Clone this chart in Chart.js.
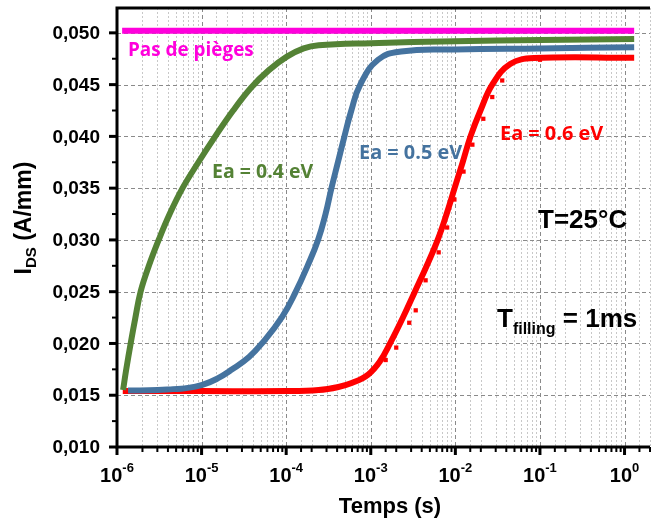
<!DOCTYPE html>
<html lang="fr">
<head>
<meta charset="UTF-8">
<title>IDS en fonction du temps</title>
<style>body{margin:0;background:#fff}</style>
</head>
<body>
<canvas id="myChart" width="654" height="524"></canvas>
<script src="https://cdn.jsdelivr.net/npm/chart.js"></script>
<script>
// values (time in s, current in A/mm)
const noTrapT = [1.15e-6, 1.3];
const noTrapI = [0.0502, 0.0502];

const ea04T = [1.18e-6, 1.28e-6, 1.45e-6, 1.65e-6, 1.9e-6, 2.38e-6, 3.11e-6, 4.19e-6, 5.95e-6, 9.17e-6, 1.45e-5, 2.36e-5, 3.84e-5, 6.25e-5, 1.02e-4, 1.61e-4, 2.42e-4, 1e-3, 1e-2, 1e-1, 1.3];
const ea04I = [0.0155, 0.0174, 0.0200, 0.0225, 0.0250, 0.0275, 0.0300, 0.0325, 0.0350, 0.0375, 0.0400, 0.0425, 0.0447, 0.0464, 0.0477, 0.0485, 0.0488, 0.0490, 0.0492, 0.0493, 0.0494];

const ea05T = [1.35e-6, 3.03e-6, 4.6e-6, 6.28e-6, 1.02e-5, 1.53e-5, 2.3e-5, 3.64e-5, 5.17e-5, 9.0e-5, 1.3e-4, 1.79e-4, 2.38e-4, 2.92e-4, 3.43e-4, 4.09e-4, 4.88e-4, 5.89e-4, 7.51e-4, 1.22e-3, 2.28e-3, 1e-2, 1e-1, 1.3];
const ea05I = [0.01545, 0.0155, 0.01559, 0.01566, 0.0160, 0.0166, 0.0175, 0.0187, 0.0200, 0.0226, 0.0250, 0.0275, 0.0300, 0.0325, 0.0350, 0.0375, 0.0400, 0.0425, 0.0450, 0.0474, 0.0482, 0.0484, 0.0485, 0.0486];

const ea06T = [1.17e-6, 1e-5, 1e-4, 2.42e-4, 4.14e-4, 6.05e-4, 9.31e-4, 1.29e-3, 1.69e-3, 2.4e-3, 3.32e-3, 4.59e-3, 6.18e-3, 7.88e-3, 9.79e-3, 1.22e-2, 1.51e-2, 1.98e-2, 2.73e-2, 4.45e-2, 8.51e-2, 1.3];
const ea06I = [0.0154, 0.0154, 0.0154, 0.0155, 0.0158, 0.0162, 0.0170, 0.0183, 0.0200, 0.0225, 0.0250, 0.0275, 0.0300, 0.0325, 0.0350, 0.0375, 0.0400, 0.0425, 0.0450, 0.0470, 0.04756, 0.0476];

// square markers along the red curve
const ea06MarkT = [1.5e-3, 2.0e-3, 2.85e-3, 3.4e-3, 4.45e-3, 6.35e-3, 8.0e-3, 9.75e-3, 1.25e-2, 1.59e-2, 2.14e-2, 2.73e-2, 3.58e-2, 0.1];
const ea06MarkI = [0.0184, 0.0196, 0.0220, 0.0232, 0.0261, 0.0288, 0.0312, 0.0339, 0.0366, 0.0392, 0.0417, 0.0438, 0.0454, 0.0474];

const xTickExp = [-6, -5, -4, -3, -2, -1, 0];
const yMajorTicks = [0.010, 0.015, 0.020, 0.025, 0.030, 0.035, 0.040, 0.045, 0.050];

function pts(xs, ys) { return xs.map((v, i) => ({x: v, y: ys[i]})); }
function isPow10(v) { const l = Math.log10(v); return Math.abs(l - Math.round(l)) < 1e-9; }
function isMajorY(v) { return yMajorTicks.some(m => Math.abs(m - v) < 1e-7); }

// draw label with a font size picked so that it spans the width seen in the reference
function fitText(ctx, text, x, y, w, family) {
  ctx.font = 'bold 20px ' + family;
  const size = 20 * w / ctx.measureText(text).width;
  ctx.font = 'bold ' + size.toFixed(1) + 'px ' + family;
  ctx.fillText(text, x, y);
}

const grids = {
  id: 'grids',
  beforeDatasetsDraw(chart) {
    const {ctx, chartArea: a, scales: {x, y}} = chart;
    ctx.save();
    ctx.lineWidth = 1;
    x.ticks.forEach(t => {
      const px = Math.round(x.getPixelForValue(t.value)) + 0.5;
      const major = isPow10(t.value);
      ctx.strokeStyle = major ? '#8a8a8a' : '#c8c8c8';
      ctx.setLineDash(major ? [4, 3] : [2, 2]);
      ctx.beginPath(); ctx.moveTo(px, a.top); ctx.lineTo(px, a.bottom); ctx.stroke();
    });
    ctx.strokeStyle = '#8a8a8a';
    ctx.setLineDash([4, 3]);
    yMajorTicks.forEach(v => {
      const py = Math.round(y.getPixelForValue(v)) + 0.5;
      ctx.beginPath(); ctx.moveTo(a.left, py); ctx.lineTo(a.right, py); ctx.stroke();
    });
    ctx.restore();
  },
  afterDraw(chart) {
    const {ctx, chartArea: a, scales: {x, y}} = chart;
    ctx.save();
    ctx.strokeStyle = '#000';
    ctx.fillStyle = '#000';
    ctx.lineWidth = 3;
    ctx.beginPath();
    ctx.moveTo(a.right, a.top); ctx.lineTo(a.left, a.top);
    ctx.lineTo(a.left, a.bottom); ctx.lineTo(a.right, a.bottom);
    ctx.stroke();

    // x ticks
    x.ticks.forEach(t => {
      const px = x.getPixelForValue(t.value);
      const major = isPow10(t.value);
      ctx.lineWidth = major ? 3 : 2;
      ctx.beginPath(); ctx.moveTo(px, a.bottom); ctx.lineTo(px, a.bottom + (major ? 8 : 5)); ctx.stroke();
    });
    // y ticks
    y.ticks.forEach(t => {
      if (t.value > 0.0505) return;
      const py = y.getPixelForValue(t.value);
      const major = isMajorY(t.value);
      ctx.lineWidth = major ? 3 : 2;
      ctx.beginPath(); ctx.moveTo(a.left, py); ctx.lineTo(a.left - (major ? 8 : 5), py); ctx.stroke();
    });

    // y tick labels
    ctx.font = 'bold 19px "Liberation Sans", Arial, sans-serif';
    ctx.textAlign = 'right';
    ctx.textBaseline = 'middle';
    yMajorTicks.forEach(v => {
      ctx.fillText(v.toFixed(3).replace('.', ','), a.left - 17, y.getPixelForValue(v) + 1);
    });

    // x tick labels 10^n
    ctx.textAlign = 'left';
    ctx.textBaseline = 'alphabetic';
    xTickExp.forEach(e => {
      const px = x.getPixelForValue(Math.pow(10, e));
      const base = '10', sup = String(e);
      ctx.font = 'bold 20px "Liberation Sans", Arial, sans-serif';
      const wb = ctx.measureText(base).width;
      ctx.font = 'bold 13px "Liberation Sans", Arial, sans-serif';
      const ws = ctx.measureText(sup).width;
      const x0 = px - (wb + ws) / 2;
      ctx.font = 'bold 20px "Liberation Sans", Arial, sans-serif';
      ctx.fillText(base, x0, 482);
      ctx.font = 'bold 13px "Liberation Sans", Arial, sans-serif';
      ctx.fillText(sup, x0 + wb, 472);
    });

    // axis titles
    ctx.font = 'bold 22px "Liberation Sans", Arial, sans-serif';
    ctx.textAlign = 'center';
    ctx.fillText('Temps (s)', 390, 513);

    ctx.save();
    ctx.translate(31, 218);
    ctx.rotate(-Math.PI / 2);
    ctx.textAlign = 'left';
    ctx.font = 'bold 23px "Liberation Sans", Arial, sans-serif';
    const wI = ctx.measureText('I').width;
    const wRest = ctx.measureText(' (A/mm)').width;
    ctx.font = 'bold 15px "Liberation Sans", Arial, sans-serif';
    const wDS = ctx.measureText('DS').width;
    let sx = -(wI + wDS + wRest) / 2;
    ctx.font = 'bold 23px "Liberation Sans", Arial, sans-serif';
    ctx.fillText('I', sx, 0);
    ctx.font = 'bold 15px "Liberation Sans", Arial, sans-serif';
    ctx.fillText('DS', sx + wI, 5);
    ctx.font = 'bold 23px "Liberation Sans", Arial, sans-serif';
    ctx.fillText(' (A/mm)', sx + wI + wDS, 0);
    ctx.restore();

    // annotations
    ctx.textAlign = 'left';
    ctx.textBaseline = 'middle';
    const fam = '"Open Sans", "Noto Sans", sans-serif';
    ctx.fillStyle = '#ff00dc'; fitText(ctx, 'Pas de pièges', 128, 51, 126, fam);
    ctx.fillStyle = '#548235'; fitText(ctx, 'Ea = 0.4 eV', 212, 172, 101, fam);
    ctx.fillStyle = '#45739f'; fitText(ctx, 'Ea = 0.5 eV', 359, 153, 103, fam);
    ctx.fillStyle = '#ff0000'; fitText(ctx, 'Ea = 0.6 eV', 500, 134, 103, fam);

    ctx.fillStyle = '#000';
    ctx.textBaseline = 'alphabetic';
    ctx.font = 'bold 26px "Liberation Sans", Arial, sans-serif';
    ctx.fillText('T=25°C', 538, 228);
    ctx.fillText('T', 497, 327);
    const wT = ctx.measureText('T').width;
    ctx.font = 'bold 16px "Liberation Sans", Arial, sans-serif';
    ctx.fillText('filling', 497 + wT, 334);
    const wf = ctx.measureText('filling').width;
    ctx.font = 'bold 26px "Liberation Sans", Arial, sans-serif';
    ctx.fillText(' = 1ms', 497 + wT + wf, 327);
    ctx.restore();
  }
};

new Chart(document.getElementById('myChart'), {
  type: 'line',
  data: {
    datasets: [
      { label: 'Pas de pièges', data: pts(noTrapT, noTrapI), borderColor: '#ff00dc', borderWidth: 6, pointRadius: 0 },
      { label: 'Ea = 0.4 eV', data: pts(ea04T, ea04I), borderColor: '#548235', borderWidth: 6, pointRadius: 0, tension: 0.4 },
      { label: 'Ea = 0.5 eV', data: pts(ea05T, ea05I), borderColor: '#45739f', borderWidth: 6, pointRadius: 0, tension: 0.45 },
      { label: 'Ea = 0.6 eV', data: pts(ea06T, ea06I), borderColor: '#ff0000', borderWidth: 6, pointRadius: 0, tension: 0.4 },
      { label: 'Ea = 0.6 eV (points)', data: pts(ea06MarkT, ea06MarkI), showLine: false, pointStyle: 'rect', pointRadius: 3, pointBackgroundColor: '#ff0000', pointBorderWidth: 0 }
    ]
  },
  options: {
    responsive: false,
    animation: false,
    layout: { padding: { top: 8, right: 0, left: 0, bottom: 0 } },
    plugins: { legend: { display: false }, tooltip: { enabled: false } },
    scales: {
      x: {
        type: 'logarithmic', min: 1e-6, max: 2,
        ticks: { display: false },
        grid: { display: false },
        border: { display: false },
        afterFit: s => { s.height = 77; }
      },
      y: {
        min: 0.010, max: 0.0524,
        ticks: { display: false, stepSize: 0.0025 },
        grid: { display: false },
        border: { display: false },
        afterFit: s => { s.width = 117; }
      }
    }
  },
  plugins: [grids]
});
</script>
</body>
</html>
